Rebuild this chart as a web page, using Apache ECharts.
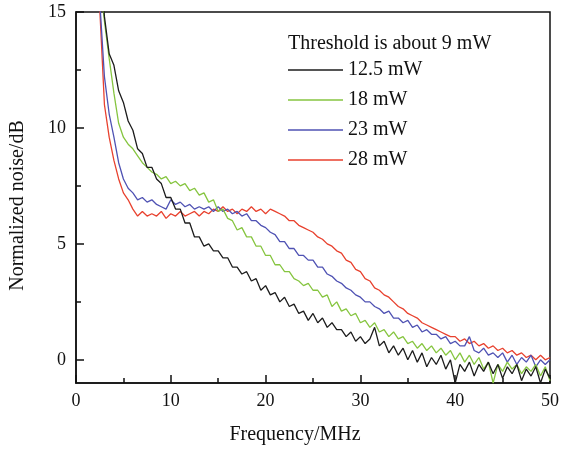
<!DOCTYPE html>
<html>
<head>
<meta charset="utf-8">
<script src="https://cdn.jsdelivr.net/npm/echarts@6/dist/echarts.min.js"></script>
<style>
  html, body { margin: 0; padding: 0; background: #fff; }
  #chart { width: 562px; height: 450px; }
</style>
</head>
<body>
<div id="chart"></div>
<script>
'use strict';

// frequency grid (MHz)
var freqs = [
  2.5, 3, 3.5, 4, 4.5, 5, 5.5, 6, 6.5, 7, 7.5, 8, 8.5, 9, 9.5, 10,
  10.5, 11, 11.5, 12, 12.5, 13, 13.5, 14, 14.5, 15, 15.5, 16, 16.5, 17, 17.5, 18,
  18.5, 19, 19.5, 20, 20.5, 21, 21.5, 22, 22.5, 23, 23.5, 24, 24.5, 25, 25.5, 26,
  26.5, 27, 27.5, 28, 28.5, 29, 29.5, 30, 30.5, 31, 31.5, 32, 32.5, 33, 33.5, 34,
  34.5, 35, 35.5, 36, 36.5, 37, 37.5, 38, 38.5, 39, 39.5, 40, 40.5, 41, 41.5, 42,
  42.5, 43, 43.5, 44, 44.5, 45, 45.5, 46, 46.5, 47, 47.5, 48, 48.5, 49, 49.5, 50
];

var names = ['12.5 mW', '18 mW', '23 mW', '28 mW'];
var colors = ['#1c1c1c', '#86c540', '#4f52b3', '#e8412e'];

var noise125 = [
  17.5, 14.8, 13.2, 12.7, 11.6, 11.1, 10.3, 9.9, 9.1, 8.9, 8.3, 8.3, 7.8, 7.6, 7.0, 7.0,
  6.5, 6.5, 5.9, 5.9, 5.3, 5.3, 4.9, 5.0, 4.7, 4.7, 4.4, 4.4, 4.0, 4.0, 3.7, 3.8,
  3.4, 3.5, 3.0, 3.2, 2.8, 2.9, 2.5, 2.7, 2.3, 2.4, 2.0, 2.1, 1.7, 2.0, 1.6, 1.8,
  1.4, 1.6, 1.3, 1.3, 1.0, 1.2, 0.8, 1.0, 0.7, 0.9, 1.4, 0.6, 0.8, 0.3, 0.6, 0.2,
  0.5, 0.0, 0.4, -0.1, 0.3, -0.3, 0.1, -0.2, 0.2, -0.4, 0.0, -1.0, -0.2, -0.5, -0.1, -0.7,
  -0.2, -0.5, -0.1, -0.6, -0.2, -0.8, -0.3, -0.6, -0.2, -0.9, -0.4, -0.7, -0.3, -1.0, -0.4, -0.8
];

var noise18 = [
  16.5, 14.6, 13.0, 11.5, 10.2, 9.6, 9.3, 9.1, 8.8, 8.5, 8.3, 8.1, 8.0, 7.8, 7.9, 7.6,
  7.7, 7.5, 7.6, 7.3, 7.4, 7.1, 7.2, 6.8, 6.9, 6.4, 6.5, 6.1, 6.0, 5.6, 5.7, 5.3,
  5.3, 4.9, 4.9, 4.5, 4.5, 4.1, 4.1, 3.8, 3.8, 3.5, 3.4, 3.2, 3.3, 3.0, 3.0, 2.7,
  2.8, 2.3, 2.5, 2.1, 2.2, 1.9, 2.0, 1.6, 1.7, 1.4, 1.6, 1.2, 1.3, 1.0, 1.2, 0.9,
  1.0, 0.7, 0.8, 0.5, 0.7, 0.4, 0.6, 0.3, 0.5, 0.2, 0.4, 0.0, 0.3, -0.1, 0.2, -0.2,
  0.1, -0.4, -0.1, -1.0, -0.2, -0.5, -0.1, -0.4, -0.2, -0.6, -0.3, -0.5, -0.2, -0.7, -0.3, -0.9
];

var noise23 = [
  15.5, 12.2, 10.6, 9.6, 8.5, 7.8, 7.4, 7.2, 6.9, 7.0, 6.8, 6.9, 6.7, 6.6, 6.5, 6.9,
  6.7, 6.8, 6.6, 6.7, 6.5, 6.6, 6.5, 6.6, 6.4, 6.6, 6.4, 6.5, 6.3, 6.4, 6.2, 6.3,
  6.0, 6.0, 5.8, 5.7, 5.5, 5.4, 5.1, 5.1, 4.8, 4.8, 4.5, 4.5, 4.3, 4.3, 4.0, 4.0,
  3.7, 3.6, 3.4, 3.3, 3.1, 3.0, 2.8, 2.7, 2.5, 2.5, 2.3, 2.2, 2.0, 2.1, 1.8, 1.8,
  1.6, 1.7, 1.4, 1.5, 1.2, 1.3, 1.1, 1.1, 0.9, 1.0, 0.7, 0.8, 0.6, 0.6, 1.0, 0.4,
  0.3, 0.5, 0.2, 0.3, 0.1, 0.3, -0.1, 0.2, -0.2, 0.1, -0.1, 0.2, -0.3, 0.0, -0.2, 0.0
];

var noise28 = [
  15.2, 11.0, 9.6, 8.6, 7.8, 7.2, 6.9, 6.5, 6.2, 6.4, 6.2, 6.3, 6.2, 6.4, 6.1, 6.3,
  6.2, 6.4, 6.2, 6.3, 6.4, 6.2, 6.4, 6.3, 6.5, 6.4, 6.6, 6.4, 6.5, 6.3, 6.5, 6.4,
  6.6, 6.4, 6.5, 6.3, 6.5, 6.4, 6.3, 6.2, 6.0, 6.0, 5.8, 5.7, 5.6, 5.5, 5.3, 5.2,
  5.0, 4.9, 4.7, 4.6, 4.3, 4.2, 3.9, 3.8, 3.5, 3.4, 3.1, 3.0, 2.8, 2.7, 2.5, 2.3,
  2.2, 2.0, 1.9, 1.8, 1.6, 1.5, 1.4, 1.3, 1.2, 1.1, 1.0, 1.0, 0.8, 0.9, 0.7, 0.8,
  0.6, 0.7, 0.5, 0.6, 0.4, 0.5, 0.3, 0.4, 0.2, 0.3, 0.1, 0.2, 0.0, 0.2, 0.0, 0.1
];

var xTicks = [0, 10, 20, 30, 40, 50];
var yTicks = [0, 5, 10, 15];
var yMinorTicks = [2.5, 7.5, 12.5];

var allSeries = [noise125, noise18, noise23, noise28];
var serif = 'Liberation Serif';

function pairs(vals) {
    return freqs.map(function(f, i) { return [f, vals[i]]; });
}

var chart = echarts.init(document.getElementById('chart'));

chart.setOption({
    animation: false,
    backgroundColor: '#fff',
    title: {
        text: 'Threshold is about 9 mW',
        left: 288,
        top: 34,
        padding: 0,
        textStyle: { fontFamily: serif, fontSize: 20, fontWeight: 'normal', color: '#111' }
    },
    legend: {
        orient: 'vertical',
        left: 288,
        top: 60,
        padding: 0,
        icon: 'rect',
        itemWidth: 55,
        itemHeight: 1.6,
        itemGap: 10,
        data: names,
        textStyle: { fontFamily: serif, fontSize: 20, color: '#111', lineHeight: 20, height: 20 }
    },
    grid: {
        left: 76, right: 9, top: 12, bottom: 66,
        show: true,
        borderColor: '#111',
        borderWidth: 1.5
    },
    xAxis: {
        type: 'value',
        min: 0, max: 50, interval: 10,
        name: 'Frequency/MHz',
        nameLocation: 'middle',
        nameGap: 42,
        nameTextStyle: { fontFamily: serif, fontSize: 20, color: '#111', padding: [0, 36, 0, 0] },
        axisLine: { onZero: false, lineStyle: { color: '#111', width: 1.5 } },
        axisTick: { inside: true, length: 8, lineStyle: { color: '#111', width: 1.5 } },
        minorTick: { show: true, splitNumber: 2, length: 5, lineStyle: { color: '#111', width: 1.5 } },
        axisLabel: { fontFamily: serif, fontSize: 18, color: '#111', margin: 9, customValues: xTicks },
        splitLine: { show: false }
    },
    yAxis: [{
        type: 'value',
        min: -1, max: 15,
        name: 'Normalized noise/dB',
        nameLocation: 'middle',
        nameGap: 48,
        nameTextStyle: { fontFamily: serif, fontSize: 20, color: '#111', padding: [0, 16, 0, 0] },
        axisLine: { onZero: false, lineStyle: { color: '#111', width: 1.5 } },
        axisTick: { inside: true, length: 8, customValues: yTicks, lineStyle: { color: '#111', width: 1.5 } },
        axisLabel: { fontFamily: serif, fontSize: 18, color: '#111', margin: 10, customValues: yTicks },
        splitLine: { show: false }
    }, {
        type: 'value',
        position: 'left',
        min: -1, max: 15,
        axisLine: { show: false, onZero: false },
        axisTick: { inside: true, length: 5, customValues: yMinorTicks, lineStyle: { color: '#111', width: 1.5 } },
        axisLabel: { show: false },
        splitLine: { show: false }
    }],
    series: names.map(function(n, i) {
        return {
            name: n,
            type: 'line',
            data: pairs(allSeries[i]),
            symbol: 'none',
            clip: true,
            color: colors[i],
            lineStyle: { width: 1.3, color: colors[i] },
            z: 10 - i
        };
    })
});
</script>
</body>
</html>
